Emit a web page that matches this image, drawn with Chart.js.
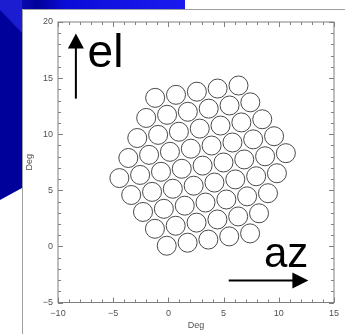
<!DOCTYPE html>
<html>
<head>
<meta charset="utf-8">
<title>Feed horn layout</title>
<script src="https://cdn.jsdelivr.net/npm/chart.js@4/dist/chart.umd.min.js"></script>
<style>
    html, body { margin: 0; padding: 0; background: #ffffff; overflow: hidden; }
    #beamChart { display: block; }
</style>
</head>
<body>
<canvas id="beamChart" width="345" height="334"></canvas>
<script>
// Beam centres (Deg), one line per row of the hexagonal array, top row first.
const beamAz = [
    -1.20, 0.69, 2.58, 4.46, 6.35,
    -2.01, -0.12, 1.76, 3.65, 5.54, 7.42,
    -2.82, -0.93, 0.95, 2.84, 4.72, 6.61, 8.50,
    -3.63, -1.75, 0.14, 2.03, 3.91, 5.80, 7.68, 9.57,
    -4.44, -2.56, -0.67, 1.21, 3.10, 4.99, 6.87, 8.76, 10.64,
    -3.37, -1.48, 0.40, 2.29, 4.17, 6.06, 7.95, 9.83,
    -2.30, -0.41, 1.48, 3.36, 5.25, 7.13, 9.02,
    -1.22, 0.66, 2.55, 4.44, 6.32, 8.21,
    -0.15, 1.74, 3.62, 5.51, 7.40
];
const beamEl = [
    13.24, 13.51, 13.79, 14.07, 14.34,
    11.45, 11.73, 12.00, 12.28, 12.56, 12.84,
    9.66, 9.94, 10.22, 10.50, 10.77, 11.05, 11.33,
    7.88, 8.16, 8.43, 8.71, 8.99, 9.26, 9.54, 9.82,
    6.09, 6.37, 6.65, 6.92, 7.20, 7.48, 7.75, 8.03, 8.31,
    4.58, 4.86, 5.14, 5.41, 5.69, 5.97, 6.25, 6.52,
    3.07, 3.35, 3.63, 3.91, 4.18, 4.46, 4.74,
    1.57, 1.84, 2.12, 2.40, 2.67, 2.95,
    0.06, 0.33, 0.61, 0.89, 1.16
];

// Axis ranges and major tick spacing.
const azRange = [-10, 15];
const elRange = [-5, 20];
const majorStep = 5;

// Direction arrows and their labels, in Deg.
const elArrow = { x: -8.38, from: 13.17, to: 18.97, labelX: -7.05, labelY: 16.03, text: 'el' };
const azArrow = { y: -3.05, from: 5.46, to: 12.68, labelX: 8.84, labelY: -1.86, text: 'az' };

const axisColor = '#808080';
const labelFont = { family: 'Liberation Sans', size: 9 };

// Slide background behind the plot panel.
const slideBackground = {
    id: 'slideBackground',
    beforeDraw(chart) {
        var ctx = chart.ctx;
        ctx.save();
        ctx.fillStyle = '#ffffff';
        ctx.fillRect(0, 0, chart.width, chart.height);

        //Top strip.
        var topGrad = ctx.createLinearGradient(0, 0, 185, 0);
        topGrad.addColorStop(0, '#1818c8');
        topGrad.addColorStop(0.2, '#00009a');
        topGrad.addColorStop(0.35, '#0c0cd8');
        topGrad.addColorStop(1, '#1a1af0');
        ctx.fillStyle = topGrad;
        ctx.fillRect(0, 0, 185, 9);

        //Left strip with a slanted lower edge.
        ctx.fillStyle = '#00009a';
        ctx.beginPath();
        ctx.moveTo(0, 0);
        ctx.lineTo(22, 0);
        ctx.lineTo(22, 188);
        ctx.lineTo(0, 200);
        ctx.closePath();
        ctx.fill();

        //Lighter wedge in the corner.
        ctx.fillStyle = '#1c1cd0';
        ctx.beginPath();
        ctx.moveTo(0, 0);
        ctx.lineTo(22, 0);
        ctx.lineTo(22, 33);
        ctx.lineTo(0, 10);
        ctx.closePath();
        ctx.fill();

        //Panel frame.
        ctx.strokeStyle = '#a0a0a0';
        ctx.lineWidth = 1;
        ctx.beginPath();
        ctx.moveTo(22.5, chart.height);
        ctx.lineTo(22.5, 9.5);
        ctx.lineTo(chart.width, 9.5);
        ctx.stroke();
        ctx.restore();
    }
};

// Box around the plot with inward ticks on all four sides.
const boxTicks = {
    id: 'boxTicks',
    afterDraw(chart) {
        var ctx = chart.ctx;
        var area = chart.chartArea;
        var xScale = chart.scales.x;
        var yScale = chart.scales.y;

        ctx.save();
        ctx.strokeStyle = axisColor;
        ctx.lineWidth = 1;
        ctx.strokeRect(area.left, area.top, area.right - area.left, area.bottom - area.top);

        ctx.beginPath();
        for (let v = xScale.min; v <= xScale.max; v++) {
            var px = Math.round(xScale.getPixelForValue(v)) + 0.5;
            var len = (v % majorStep === 0) ? 5 : 3;
            ctx.moveTo(px, area.bottom);
            ctx.lineTo(px, area.bottom - len);
            ctx.moveTo(px, area.top);
            ctx.lineTo(px, area.top + len);
        }
        for (let v = yScale.min; v <= yScale.max; v++) {
            var py = Math.round(yScale.getPixelForValue(v)) + 0.5;
            var len = (v % majorStep === 0) ? 5 : 3;
            ctx.moveTo(area.left, py);
            ctx.lineTo(area.left + len, py);
            ctx.moveTo(area.right, py);
            ctx.lineTo(area.right - len, py);
        }
        ctx.stroke();
        ctx.restore();
    }
};

// The el / az direction arrows.
const directionArrows = {
    id: 'directionArrows',
    afterDatasetsDraw(chart) {
        var ctx = chart.ctx;
        var xScale = chart.scales.x;
        var yScale = chart.scales.y;

        ctx.save();
        ctx.strokeStyle = '#000000';
        ctx.fillStyle = '#000000';
        ctx.lineWidth = 2;

        //Elevation arrow, pointing up.
        var ex = xScale.getPixelForValue(elArrow.x);
        var eTip = yScale.getPixelForValue(elArrow.to);
        var eEnd = yScale.getPixelForValue(elArrow.from);
        ctx.beginPath();
        ctx.moveTo(ex, eEnd);
        ctx.lineTo(ex, eTip + 12);
        ctx.stroke();
        ctx.beginPath();
        ctx.moveTo(ex, eTip);
        ctx.lineTo(ex - 8, eTip + 15);
        ctx.lineTo(ex + 8, eTip + 15);
        ctx.closePath();
        ctx.fill();

        //Azimuth arrow, pointing right.
        var ay = yScale.getPixelForValue(azArrow.y);
        var aTip = xScale.getPixelForValue(azArrow.to);
        var aEnd = xScale.getPixelForValue(azArrow.from);
        ctx.beginPath();
        ctx.moveTo(aEnd, ay);
        ctx.lineTo(aTip - 12, ay);
        ctx.stroke();
        ctx.beginPath();
        ctx.moveTo(aTip, ay);
        ctx.lineTo(aTip - 16, ay - 8);
        ctx.lineTo(aTip - 16, ay + 8);
        ctx.closePath();
        ctx.fill();

        ctx.textAlign = 'left';
        ctx.textBaseline = 'alphabetic';
        ctx.font = '46px "Liberation Sans"';
        ctx.fillText(elArrow.text, xScale.getPixelForValue(elArrow.labelX) - 3, yScale.getPixelForValue(elArrow.labelY));
        ctx.font = '42px "Liberation Sans"';
        ctx.fillText(azArrow.text, xScale.getPixelForValue(azArrow.labelX) - 2, yScale.getPixelForValue(azArrow.labelY));
        ctx.restore();
    }
};

function initChart() {
    var beamChartControl = document.getElementById('beamChart');

    const beamPoints = [];
    for (let i = 0; i < beamAz.length; i++) {
        beamPoints.push({ x: beamAz[i], y: beamEl[i] });
    }

    var beamChart = new Chart(beamChartControl, {
        type: 'scatter',
        data: {
            datasets: [{
                data: beamPoints,
                pointStyle: 'circle',
                pointRadius: 9.5,
                pointHoverRadius: 9.5,
                borderColor: '#4a4a4a',
                borderWidth: 1,
                backgroundColor: 'rgba(0, 0, 0, 0)'
            }]
        },
        options: {
            responsive: false,
            animation: false,
            devicePixelRatio: 1,
            layout: {
                padding: { left: 0, right: 10, top: 22, bottom: 0 }
            },
            scales: {
                x: {
                    type: 'linear',
                    min: azRange[0],
                    max: azRange[1],
                    grid: { display: false, drawTicks: false },
                    border: { display: false },
                    ticks: {
                        stepSize: majorStep,
                        color: '#505050',
                        font: labelFont,
                        padding: 6,
                        maxRotation: 0,
                        callback: (value) => String(value).replace('-', '\u2212')
                    },
                    title: {
                        display: true,
                        text: 'Deg',
                        color: '#505050',
                        font: labelFont,
                        padding: { top: 0, bottom: 3 }
                    },
                    afterFit: (scale) => {
                        scale.height = 31.5;
                    }
                },
                y: {
                    type: 'linear',
                    min: elRange[0],
                    max: elRange[1],
                    grid: { display: false, drawTicks: false },
                    border: { display: false },
                    ticks: {
                        stepSize: majorStep,
                        color: '#505050',
                        font: labelFont,
                        padding: 5,
                        callback: (value) => String(value).replace('-', '\u2212')
                    },
                    title: {
                        display: true,
                        text: 'Deg',
                        color: '#505050',
                        font: labelFont,
                        padding: { top: 24, bottom: 0 }
                    },
                    afterFit: (scale) => {
                        scale.width = 58;
                    }
                }
            },
            plugins: {
                legend: { display: false },
                tooltip: { enabled: false }
            }
        },
        plugins: [slideBackground, boxTicks, directionArrows]
    });
}

initChart();
</script>
</body>
</html>
